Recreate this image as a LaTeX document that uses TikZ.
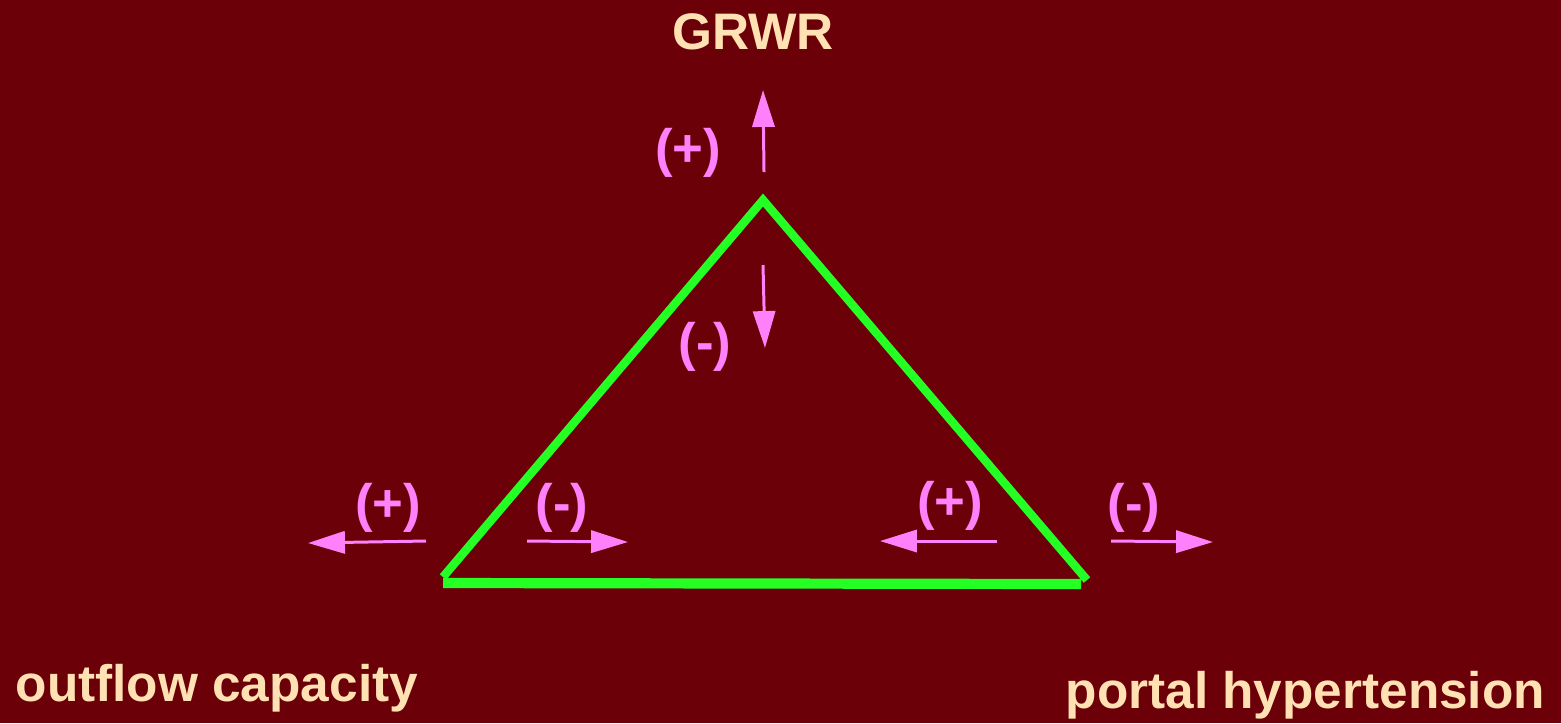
\documentclass[tikz,border=0pt]{standalone}
\usepackage{fontspec}
\setmainfont{Liberation Sans}
\usetikzlibrary{arrows.meta}
\definecolor{bgred}{RGB}{108,0,8}
\definecolor{cream}{RGB}{255,225,180}
\definecolor{pinky}{RGB}{255,128,250}
\definecolor{limegreen}{RGB}{36,255,36}
\tikzset{
  title/.style={text=cream, font=\fontsize{14.6}{16}\selectfont\bfseries, inner sep=0pt},
  sign/.style={text=pinky, font=\fontsize{15}{17}\selectfont\bfseries, inner sep=0pt},
  push/.style={pinky, line width=0.85pt, -{Triangle[length=10.5pt, width=6.3pt]}},
  side/.style={limegreen, line width=2.4pt}
}
\begin{document}
\begin{tikzpicture}[x=0.01cm, y=-0.01cm]
  \fill[bgred] (0,0) rectangle (1561,723);
  \useasboundingbox (0,0) rectangle (1561,723);

  \coordinate (apex) at (763,200);
  \coordinate (left) at (443,577);
  \coordinate (right) at (1087,580);
  \coordinate (leftb) at (443,583);
  \coordinate (rightb) at (1081,584);
  \draw[side] (left) -- (apex) -- (right);
  \draw[side, line width=2.9pt] (leftb) -- (rightb);

  \node[title] (grwr) at (753,32) {GRWR};
  \node[title, anchor=base west] (outflow) at (15,701) {outflow capacity};
  \node[title, anchor=base west] (portal) at (1065,708) {portal hypertension};

  \node[sign] (topplus) at (688,153) {(+)};
  \node[sign] (topminus) at (705,347) {(-)};
  \node[sign] (leftplus) at (388,508) {(+)};
  \node[sign] (leftminus) at (562,508) {(-)};
  \node[sign] (rightplus) at (950,506) {(+)};
  \node[sign] (rightminus) at (1134,508) {(-)};

  \coordinate (up0) at (764,172);   \coordinate (up1) at (763,90);
  \coordinate (dn0) at (763,265);   \coordinate (dn1) at (765,348);
  \coordinate (lp0) at (426,541);   \coordinate (lp1) at (308,543);
  \coordinate (lm0) at (527,541);   \coordinate (lm1) at (628,542);
  \coordinate (rp0) at (997,541);   \coordinate (rp1) at (880,541);
  \coordinate (rm0) at (1111,541);  \coordinate (rm1) at (1213,542);
  \draw[push] (up0) -- (up1);
  \draw[push] (dn0) -- (dn1);
  \draw[push] (lp0) -- (lp1);
  \draw[push] (lm0) -- (lm1);
  \draw[push] (rp0) -- (rp1);
  \draw[push] (rm0) -- (rm1);
\end{tikzpicture}
\end{document}
